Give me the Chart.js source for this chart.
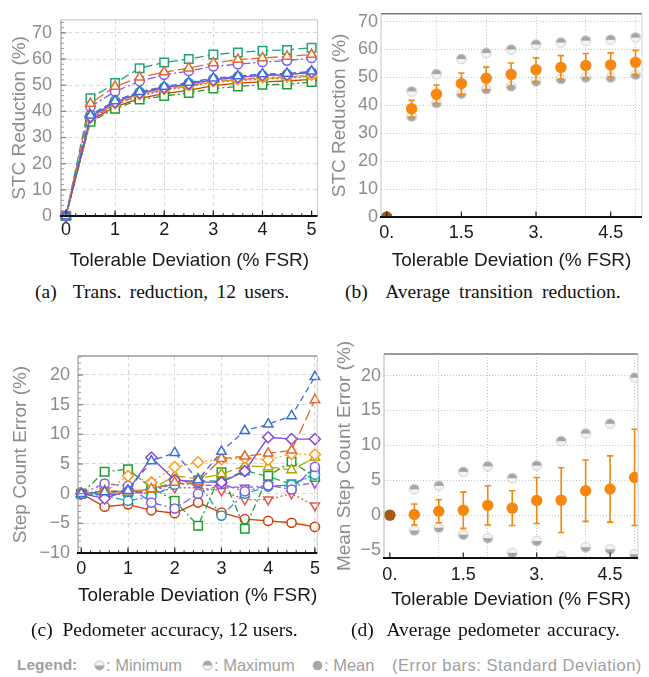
<!DOCTYPE html>
<html><head><meta charset="utf-8">
<script src="https://cdn.jsdelivr.net/npm/chart.js@4.4.1/dist/chart.umd.min.js"></script>
<style>
html,body{margin:0;padding:0;background:#fff;}
#wrap{position:relative;width:649px;height:677px;overflow:hidden;background:#fff;}
canvas{position:absolute;}
.cap{position:absolute;font-family:"Liberation Serif","Times New Roman",serif;font-size:19.5px;line-height:20px;color:#111;white-space:nowrap;}
.leg{position:absolute;top:656px;font-family:"Liberation Sans",Arial,sans-serif;font-size:16.5px;line-height:18px;color:#a0a0a0;white-space:pre;}
.ico{position:absolute;top:660px;}
</style></head>
<body><div id="wrap">
<canvas id="ca" width="325" height="280" style="left:0;top:0"></canvas>
<canvas id="cb" width="324" height="280" style="left:325px;top:0"></canvas>
<canvas id="cc" width="325" height="290" style="left:0;top:330px"></canvas>
<canvas id="cd" width="324" height="290" style="left:325px;top:330px"></canvas>
<div class="cap" style="left:35px;top:282px;word-spacing:3.4px">(a)&nbsp; Trans. reduction, 12 users.</div>
<div class="cap" style="left:345px;top:282px;word-spacing:4.4px">(b)&nbsp; Average transition reduction.</div>
<div class="cap" style="left:31px;top:620px;word-spacing:0px">(c)&nbsp; Pedometer accuracy, 12 users.</div>
<div class="cap" style="left:351px;top:620px;word-spacing:2px">(d)&nbsp; Average pedometer accuracy.</div>
<div class="leg" style="left:17px;font-size:15.5px;font-weight:bold;">Legend:</div>
<svg class="ico" style="left:94px" width="11" height="11" viewBox="0 0 11 11"><circle cx="5.5" cy="5.5" r="4.6" fill="#f4f4f4" stroke="#b0b0b0" stroke-width="0.8"/><path d="M0.9,5.5 A4.6,4.6 0 0 0 10.1,5.5 Z" fill="#a8a8a8"/></svg>
<div class="leg" style="left:106px">: Minimum</div>
<svg class="ico" style="left:202px" width="11" height="11" viewBox="0 0 11 11"><circle cx="5.5" cy="5.5" r="4.6" fill="#f4f4f4" stroke="#b0b0b0" stroke-width="0.8"/><path d="M0.9,5.5 A4.6,4.6 0 0 1 10.1,5.5 Z" fill="#a8a8a8"/></svg>
<div class="leg" style="left:214px">: Maximum</div>
<svg class="ico" style="left:312px" width="11" height="11" viewBox="0 0 11 11"><circle cx="5.5" cy="5.5" r="4.8" fill="#a8a8a8"/></svg>
<div class="leg" style="left:324px">: Mean</div>
<div class="leg" style="left:392px;letter-spacing:0.5px">(Error bars: Standard Deviation)</div>
</div>
<script>
// ---------- shared x values ----------
const xValues = [0, 0.5, 1, 1.5, 2, 2.5, 3, 3.5, 4, 4.5, 5];

// ---------- (a) STC reduction per user (%) ----------
const transUser1  = [0, 38.5, 44.0, 47.5, 49.5, 51.0, 52.7, 53.5, 54.3, 54.5, 55.3];
const transUser2  = [0, 43.0, 49.5, 53.0, 55.0, 56.5, 58.5, 59.8, 60.4, 61.0, 61.7];
const transUser3  = [0, 38.0, 43.5, 47.0, 49.0, 50.5, 52.0, 53.0, 53.8, 54.0, 55.0];
const transUser4  = [0, 37.6, 43.0, 46.5, 48.5, 50.0, 51.5, 52.2, 53.0, 53.3, 54.0];
const transUser5  = [0, 38.0, 43.0, 46.8, 48.8, 49.9, 51.3, 52.0, 52.6, 53.0, 53.5];
const transUser6  = [0, 41.8, 47.6, 51.5, 54.0, 55.4, 57.2, 58.0, 58.9, 59.4, 60.4];
const transUser7  = [0, 38.7, 44.0, 47.4, 49.2, 50.8, 52.4, 53.3, 53.8, 54.2, 54.8];
const transUser8  = [0, 36.0, 41.0, 44.5, 45.9, 47.0, 48.7, 49.5, 50.2, 50.3, 51.2];
const transUser9  = [0, 45.0, 50.8, 56.5, 58.7, 60.0, 61.7, 62.5, 63.2, 63.5, 64.3];
const transUser10 = [0, 37.0, 42.5, 46.0, 48.0, 49.5, 51.0, 51.8, 52.3, 52.7, 53.3];
const transUser11 = [0, 36.5, 41.7, 45.0, 46.8, 48.0, 49.8, 50.8, 51.3, 51.6, 52.2];
const transUser12 = [0, 37.2, 42.6, 46.3, 48.3, 49.8, 51.5, 52.3, 52.8, 53.1, 53.8];

// ---------- (b) average transition reduction ----------
const transMean = [0, 38.8, 44.0, 47.8, 49.7, 51.1, 52.8, 53.6, 54.3, 54.5, 55.4];
const transSD   = [0, 3.0, 3.3, 3.8, 4.0, 4.1, 4.2, 4.2, 4.3, 4.3, 4.3];
const transMin  = [0, 36.0, 40.8, 44.2, 45.8, 46.8, 48.6, 49.4, 50.0, 50.0, 51.0];
const transMax  = [0, 45.0, 51.2, 56.6, 58.8, 60.0, 61.8, 62.5, 63.2, 63.5, 64.3];

// ---------- (c) step count error per user (%) ----------
const stepUser1  = [0, 0.3, 0.5, 5.5, 6.9, 2.3, 7.1, 10.6, 11.7, 13.1, 19.7];
const stepUser2  = [0, 0.5, 0.2, 0.8, 1.9, 2.0, 5.9, 6.3, 6.8, 7.3, 15.8];
const stepUser3  = [0, -0.8, 0.5, 6.1, 2.3, 2.0, 1.9, 3.8, 9.5, 9.2, 9.2];
const stepUser4  = [0, 0.3, 3.0, 1.9, 4.5, 5.3, 5.8, 6.0, 5.7, 6.7, 6.6];
const stepUser5  = [0, 0.1, 0.5, 0.7, 3.0, 2.5, 3.3, 4.7, 4.5, 4.0, 6.1];
const stepUser6  = [0, 1.7, 1.3, -1.5, -2.5, 0.0, 1.6, 0.4, 1.4, 0.7, 4.5];
const stepUser7  = [0, -0.3, -1.2, -0.5, 1.5, 1.8, -3.7, 0.0, 1.2, 1.5, 3.2];
const stepUser8  = [0, 3.7, 4.1, 1.0, -1.2, -5.4, 3.6, -5.9, 3.0, 5.4, 2.8];
const stepUser9  = [0, 0.0, 0.3, 0.5, 2.0, 2.2, 2.1, 3.9, 2.9, 1.6, 3.3];
const stepUser10 = [0, 0.5, 0.3, 0.0, 1.0, 1.0, 0.5, -1.0, -1.0, 0.0, -2.0];
const stepUser11 = [0, -2.2, -1.8, -2.8, -3.3, -1.5, -3.2, -4.3, -4.6, -4.9, -5.6];
const stepUser12 = [0, -0.2, 0.0, 0.3, 1.8, 1.5, 1.3, 1.0, 1.4, 1.3, 1.8];

// ---------- (d) average pedometer accuracy ----------
const stepMean = [0, 0.1, 0.55, 0.7, 1.4, 1.0, 2.1, 2.15, 3.5, 3.75, 5.4];
const stepSD   = [0, 1.5, 1.65, 2.6, 2.8, 2.5, 3.3, 4.65, 4.4, 4.75, 6.9];
const stepMin  = [0, -2.2, -1.8, -2.8, -3.3, -5.4, -3.7, -5.9, -4.6, -4.9, -5.6];
const stepMax  = [0, 3.7, 4.2, 6.2, 7.0, 5.3, 7.1, 10.6, 11.7, 13.1, 19.7];

// ---------- tick values / labels ----------
const userXTicks = [0, 1, 2, 3, 4, 5];
const transYTicks = [0, 10, 20, 30, 40, 50, 60, 70];
const stepYTicks = [-10, -5, 0, 5, 10, 15, 20];
const meanStepYTicks = [-5, 0, 5, 10, 15, 20];
const summaryXTicks = [0, 1, 1.5, 2, 3, 4, 4.5, 5];
const summaryXLabelVals = [0, 1.5, 3, 4.5];
const summaryXLabels = ['0.', '1.5', '3.', '4.5'];

// ---------- series styles ----------
const seriesColors = ['#3C6FD8', '#E4692B', '#8746D6', '#FF9B1C', '#B4A600', '#7C5DEA',
                      '#1E9CC2', '#1F9F2C', '#22A27C', '#E35646', '#CF3F0C', '#9256D6'];
const seriesMarkers = ['triangle', 'triangle', 'rectRot', 'rectRot', 'triangle', 'circle',
                       'circle', 'rect', 'rect', 'triangle', 'circle', 'triangle'];
const seriesRot = [0, 0, 0, 0, 0, 0, 0, 0, 0, 180, 0, 180];
const seriesRadius = [5.5, 5.5, 5.5, 5.5, 5.5, 4.6, 4.6, 6, 6, 5.2, 4.6, 5.2];
const seriesDash = [[6, 4], [11, 4], [], [2, 3], [12, 4], [8, 3, 2, 3], [2, 3, 7, 3],
                    [7, 3, 2, 3], [9, 4], [2, 2.5], [], [6, 3, 2, 3]];

Chart.defaults.font.family = '"Liberation Sans", Arial, sans-serif';
Chart.defaults.animation = false;

const GRAY = '#8c8c8c';
const minus = v => v < 0 ? '\u2212' + Math.abs(v) : String(v);

function userDatasets(list) {
  return list.map((vals, i) => ({
    data: vals.map((v, j) => ({x: xValues[j], y: v})),
    showLine: true,
    borderColor: seriesColors[i],
    borderWidth: 1.3,
    borderDash: seriesDash[i],
    pointStyle: seriesMarkers[i],
    pointRotation: seriesRot[i],
    pointRadius: seriesRadius[i],
    pointBorderColor: seriesColors[i],
    pointBackgroundColor: '#ffffff',
    pointBorderWidth: 1.5,
    clip: 6
  }));
}

function halfIcon(top) {
  const c = document.createElement('canvas');
  c.width = 12; c.height = 12;
  const g = c.getContext('2d');
  g.beginPath(); g.arc(6, 6, 4.8, 0, Math.PI * 2); g.fillStyle = '#f3f3f3'; g.fill();
  g.beginPath();
  if (top) g.arc(6, 6, 4.8, Math.PI, Math.PI * 2); else g.arc(6, 6, 4.8, 0, Math.PI);
  g.closePath(); g.fillStyle = '#a4a4a4'; g.fill();
  g.beginPath(); g.arc(6, 6, 4.8, 0, Math.PI * 2); g.strokeStyle = '#c4c4c4'; g.lineWidth = 0.8; g.stroke();
  return c;
}
const maxIcon = halfIcon(true);
const minIcon = halfIcon(false);

function summaryDatasets(mean, mins, maxs) {
  return [
    {data: mean.map((v, j) => ({x: xValues[j], y: v})), pointRadius: 5.7, pointBorderWidth: 0,
     pointBackgroundColor: mean.map((v, j) => j === 0 ? '#A85A10' : '#F7870D'), showLine: false},
    {data: mins.map((v, j) => ({x: xValues[j], y: v})), pointStyle: minIcon, showLine: false},
    {data: maxs.map((v, j) => ({x: xValues[j], y: v})), pointStyle: maxIcon, showLine: false}
  ];
}

const framePlugin = {
  id: 'frame',
  afterDatasetsDraw(chart, args, o) {
    const {ctx, chartArea: a, scales: {x, y}} = chart;
    ctx.save();
    const seg = (x1, y1, x2, y2, c, w) => {
      ctx.beginPath(); ctx.strokeStyle = c; ctx.lineWidth = w;
      ctx.moveTo(x1, y1); ctx.lineTo(x2, y2); ctx.stroke();
    };
    seg(a.left, a.top, a.right, a.top, o.top[0], o.top[1]);
    seg(a.right, a.top, a.right, a.bottom, o.right[0], o.right[1]);
    seg(a.left, a.top, a.left, a.bottom, o.left[0], o.left[1]);
    (o.xMinor || []).forEach(v => { const p = x.getPixelForValue(v); seg(p, a.bottom, p, a.bottom - 3, '#444', 1); });
    (o.xMajor || []).forEach(v => { const p = x.getPixelForValue(v); seg(p, a.bottom, p, a.bottom - 5.5, '#222', 1.2); });
    (o.yMinor || []).forEach(v => { const p = y.getPixelForValue(v); seg(a.left, p, a.left + 3, p, '#999', 1); });
    (o.yMajor || []).forEach(v => { const p = y.getPixelForValue(v); seg(a.left, p, a.left + 5.5, p, '#888', 1.2); });
    seg(a.left - 1, a.bottom, a.right, a.bottom, o.bottom[0], o.bottom[1]);
    ctx.restore();
  }
};

const errorBarPlugin = {
  id: 'errBars',
  beforeDatasetDraw(chart, args, o) {
    if (!o || !o.mean || args.index !== 0) return;
    const {ctx, chartArea: a, scales: {x, y}} = chart;
    ctx.save();
    ctx.beginPath(); ctx.rect(a.left, a.top, a.width, a.height); ctx.clip();
    ctx.strokeStyle = o.color; ctx.lineWidth = 1.6;
    o.mean.forEach((m, i) => {
      const sd = o.sd[i]; if (!sd) return;
      const px = x.getPixelForValue(xValues[i]);
      const t = y.getPixelForValue(m + sd), b = y.getPixelForValue(m - sd);
      ctx.beginPath();
      ctx.moveTo(px, t); ctx.lineTo(px, b);
      ctx.moveTo(px - 3.2, t); ctx.lineTo(px + 3.2, t);
      ctx.moveTo(px - 3.2, b); ctx.lineTo(px + 3.2, b);
      ctx.stroke();
    });
    ctx.restore();
  }
};

function range(a, b, step) { const r = []; for (let v = a; v <= b + 1e-9; v += step) r.push(+v.toFixed(3)); return r; }

function makeScales(c) {
  return {
    x: {
      type: 'linear', min: c.xmin, max: c.xmax,
      afterBuildTicks: s => { s.ticks = c.xTicks.map(v => ({value: v})); },
      afterFit: s => { s.height = c.xH; },
      ticks: {autoSkip: false, maxRotation: 0, padding: c.xTickPad, color: '#1a1a1a', font: {size: 18},
              callback: c.xLabel || (v => String(v))},
      grid: {drawTicks: false, color: c.xGrid, lineWidth: 1},
      border: {display: false, dash: c.dash},
      title: {display: true, text: 'Tolerable Deviation (% FSR)', color: '#1a1a1a', font: {size: 19},
              padding: {top: 0, bottom: c.xTitlePad}}
    },
    y: {
      type: 'linear', min: c.ymin, max: c.ymax,
      afterBuildTicks: s => { s.ticks = c.yTicks.map(v => ({value: v})); },
      afterFit: s => { s.width = c.yW; },
      ticks: {autoSkip: false, padding: c.yTickPad, color: GRAY, font: {size: 18}, callback: v => minus(v)},
      grid: {drawTicks: false, color: c.yGrid, lineWidth: 1},
      border: {display: false, dash: c.dash},
      title: {display: true, text: c.yTitle, color: GRAY, font: {size: 19},
              padding: {top: c.yTitlePad, bottom: 0}}
    }
  };
}

const clear = 'rgba(0,0,0,0)';
const dashGrid = '#d9d9d9';
const dotGrid = '#c4c4c4';
const summaryXLabel = v => { const k = summaryXLabelVals.indexOf(v); return k >= 0 ? summaryXLabels[k] : ''; };
const summaryXGrid = ctx => (Number.isInteger(ctx.tick.value) && ctx.tick.value > 0) ? dotGrid : clear;

// (a)
new Chart(document.getElementById('ca'), {
  type: 'scatter',
  data: {datasets: userDatasets([transUser1, transUser2, transUser3, transUser4, transUser5, transUser6,
                                 transUser7, transUser8, transUser9, transUser10, transUser11, transUser12])},
  plugins: [framePlugin],
  options: {
    responsive: false, devicePixelRatio: 1,
    layout: {padding: {left: 0, top: 8, right: 3, bottom: 0}},
    plugins: {legend: {display: false}, tooltip: {enabled: false},
      frame: {top: ['#c4c4c4', 1], right: ['#c8c8c8', 1], left: ['#8a8a8a', 1], bottom: ['#111', 2],
              xMajor: userXTicks, xMinor: range(0, 5, 0.2), yMajor: transYTicks, yMinor: range(0, 74, 2)}},
    scales: makeScales({xmin: -0.1, xmax: 5.12, ymin: 0, ymax: 75, xTicks: userXTicks, yTicks: transYTicks,
      xH: 64, yW: 61, xTickPad: 3.5, yTickPad: 9, xTitlePad: 7.5, yTitlePad: 8.5, dash: [4, 3],
      xGrid: ctx => (ctx.tick.value > 0 && ctx.tick.value < 5) ? dashGrid : clear,
      yGrid: ctx => ctx.tick.value > 0 ? dashGrid : clear, yTitle: 'STC Reduction (%)'})
  }
});

// (b)
new Chart(document.getElementById('cb'), {
  type: 'scatter',
  data: {datasets: summaryDatasets(transMean, transMin, transMax)},
  plugins: [framePlugin, errorBarPlugin],
  options: {
    responsive: false, devicePixelRatio: 1,
    layout: {padding: {left: 0, top: 8, right: 7, bottom: 0}},
    plugins: {legend: {display: false}, tooltip: {enabled: false},
      errBars: {mean: transMean, sd: transSD, color: '#F08A12'},
      frame: {top: ['#7a7a7a', 1.6], right: ['#cfcfcf', 1], left: ['#c4c4c4', 1], bottom: ['#111', 2],
              xMajor: summaryXLabelVals, yMajor: [0]}},
    scales: makeScales({xmin: -0.115, xmax: 5.13, ymin: 0, ymax: 72.8, xTicks: summaryXTicks, yTicks: transYTicks,
      xH: 63, yW: 56, xTickPad: 5, yTickPad: 3, xTitlePad: 7.5, yTitlePad: 3.5, dash: [1, 2],
      xLabel: summaryXLabel, xGrid: summaryXGrid,
      yGrid: ctx => ctx.tick.value > 0 ? dotGrid : clear, yTitle: 'STC Reduction (%)'})
  }
});

// (c)
new Chart(document.getElementById('cc'), {
  type: 'scatter',
  data: {datasets: userDatasets([stepUser1, stepUser2, stepUser3, stepUser4, stepUser5, stepUser6,
                                 stepUser7, stepUser8, stepUser9, stepUser10, stepUser11, stepUser12])},
  plugins: [framePlugin],
  options: {
    responsive: false, devicePixelRatio: 1,
    layout: {padding: {left: 0, top: 26, right: 3, bottom: 0}},
    plugins: {legend: {display: false}, tooltip: {enabled: false},
      frame: {top: ['#9a9a9a', 1.4], right: ['#c8c8c8', 1], left: ['#8a8a8a', 1], bottom: ['#111', 2],
              xMajor: userXTicks, xMinor: range(0, 5, 0.2), yMajor: stepYTicks, yMinor: range(-10, 23, 1)}},
    scales: makeScales({xmin: -0.07, xmax: 5.05, ymin: -10, ymax: 23.2, xTicks: userXTicks, yTicks: stepYTicks,
      xH: 67, yW: 78, xTickPad: 5, yTickPad: 8, xTitlePad: 12.5, yTitlePad: 9.5, dash: [4, 3],
      xGrid: ctx => ctx.tick.value > 0 ? dashGrid : clear,
      yGrid: ctx => ctx.tick.value > -10 ? dashGrid : clear, yTitle: 'Step Count Error (%)'})
  }
});

// (d)
new Chart(document.getElementById('cd'), {
  type: 'scatter',
  data: {datasets: summaryDatasets(stepMean, stepMin, stepMax)},
  plugins: [framePlugin, errorBarPlugin],
  options: {
    responsive: false, devicePixelRatio: 1,
    layout: {padding: {left: 0, top: 24, right: 11, bottom: 0}},
    plugins: {legend: {display: false}, tooltip: {enabled: false},
      errBars: {mean: stepMean, sd: stepSD, color: '#F08A12'},
      frame: {top: ['#7a7a7a', 1.6], right: ['#cfcfcf', 1], left: ['#b4b4b4', 1], bottom: ['#111', 2],
              xMajor: summaryXLabelVals}},
    scales: makeScales({xmin: -0.12, xmax: 5.07, ymin: -6.15, ymax: 23.1, xTicks: summaryXTicks, yTicks: meanStepYTicks,
      xH: 62, yW: 59, xTickPad: 6.5, yTickPad: 3, xTitlePad: 8.5, yTitlePad: 8.5, dash: [1, 2],
      xLabel: summaryXLabel, xGrid: summaryXGrid,
      yGrid: ctx => ctx.tick.value >= 0 ? dotGrid : clear, yTitle: 'Mean Step Count Error (%)'})
  }
});
</script>
</body></html>
